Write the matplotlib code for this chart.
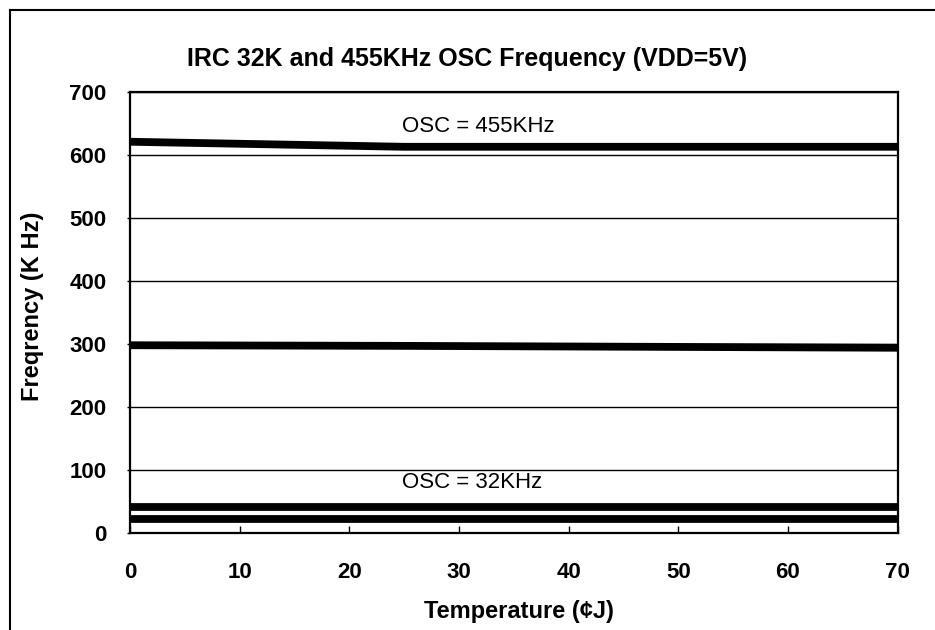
import matplotlib
matplotlib.use('Agg')
import matplotlib.pyplot as plt
from matplotlib.lines import Line2D

plt.rcParams['font.family'] = ['Liberation Sans', 'DejaVu Sans']

# temperature points (deg C)
temps = [0, 25, 70]
# frequency curves, K Hz
osc455_a = [621, 613, 613]
osc455_b = [298, 297, 294]
osc32_a = [42, 42, 42]
osc32_b = [22, 22, 22]

x_ticks = [0, 10, 20, 30, 40, 50, 60, 70]
y_ticks = [0, 100, 200, 300, 400, 500, 600, 700]

fig = plt.figure(figsize=(9.35, 6.3), dpi=100)
ax = fig.add_axes([0.139, 0.154, 0.821, 0.700])

for series in (osc455_a, osc455_b, osc32_a, osc32_b):
    ax.plot(temps, series, color='black', linewidth=5.6, solid_capstyle='butt', zorder=3)

ax.set_xlim(0, 70)
ax.set_ylim(0, 700)
ax.set_xticks(x_ticks)
ax.set_yticks(y_ticks)
ax.yaxis.grid(True, color='black', linewidth=1)
ax.set_axisbelow(True)

ax.tick_params(axis='x', direction='in', length=5, width=1, pad=21,
               labelsize=16)
ax.tick_params(axis='y', direction='out', length=2, width=1, pad=15,
               labelsize=16)
for lbl in ax.get_xticklabels() + ax.get_yticklabels():
    lbl.set_fontweight('bold')
for sp in ax.spines.values():
    sp.set_linewidth(1.6)

ax.text(24.8, 636, 'OSC = 455KHz', fontsize=16, ha='left', va='baseline')
ax.text(24.8, 71, 'OSC = 32KHz', fontsize=16, ha='left', va='baseline')

fig.text(0.5, 0.907, 'IRC 32K and 455KHz OSC Frequency (VDD=5V)',
         fontsize=18, fontweight='bold', ha='center', va='center')
fig.text(0.555, 0.029, 'Temperature (\u00a2J)', fontsize=17, fontweight='bold',
         ha='center', va='center')
fig.text(0.035, 0.513, 'Freqrency (K Hz)', fontsize=17, fontweight='bold',
         ha='center', va='center', rotation=90)

# outer frame (left and top edges visible)
fx = 9.5 / 935
fy = 1 - 9.5 / 630
fig.add_artist(Line2D([fx, fx], [0, fy], color='black', linewidth=1.5))
fig.add_artist(Line2D([fx, 1], [fy, fy], color='black', linewidth=1.5))

fig.savefig('out.png', dpi=100)
